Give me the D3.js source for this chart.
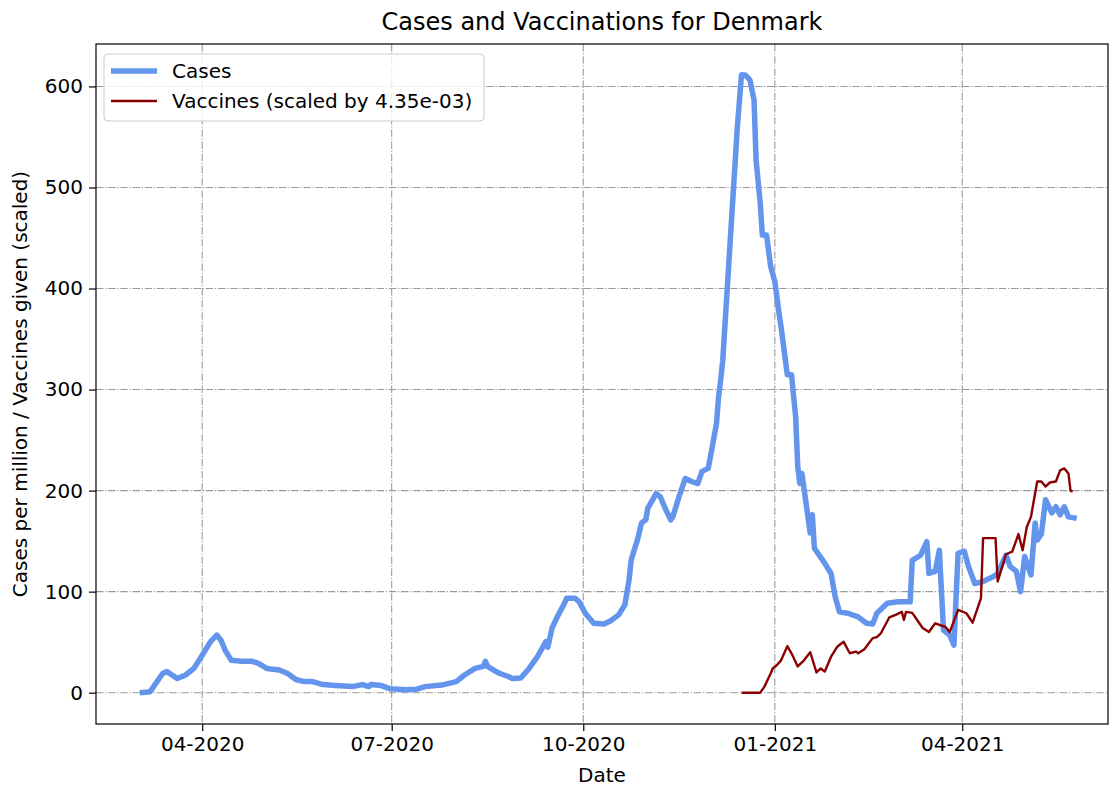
<html>
<head>
<meta charset="utf-8">
<script src="https://d3js.org/d3.v7.min.js"></script>
<style>
body { margin: 0; background: #fff; }
text { font-family: "DejaVu Sans", sans-serif; fill: #000; }
</style>
</head>
<body>
<svg width="1112" height="787"></svg>
<script>
// cases per million
var caseDates = ["2020-03-02","2020-03-07","2020-03-13","2020-03-15","2020-03-20","2020-03-24","2020-03-28",
  "2020-04-01","2020-04-05","2020-04-08","2020-04-10","2020-04-12","2020-04-15","2020-04-20","2020-04-25","2020-04-28",
  "2020-05-02","2020-05-08","2020-05-12","2020-05-16","2020-05-20","2020-05-24","2020-05-29",
  "2020-06-04","2020-06-12","2020-06-17","2020-06-20","2020-06-21","2020-06-26","2020-06-30",
  "2020-07-08","2020-07-13","2020-07-17","2020-07-25",
  "2020-08-01","2020-08-05","2020-08-10","2020-08-14","2020-08-15","2020-08-16","2020-08-20","2020-08-22","2020-08-26","2020-08-28",
  "2020-09-01","2020-09-05","2020-09-09","2020-09-13","2020-09-14","2020-09-16","2020-09-19","2020-09-22","2020-09-23","2020-09-27","2020-09-29",
  "2020-10-02","2020-10-06","2020-10-11","2020-10-14","2020-10-18","2020-10-21","2020-10-23","2020-10-24","2020-10-25","2020-10-27","2020-10-29","2020-10-31",
  "2020-11-01","2020-11-05","2020-11-07","2020-11-09","2020-11-12","2020-11-13","2020-11-16","2020-11-19","2020-11-22","2020-11-25","2020-11-27","2020-11-30",
  "2020-12-02","2020-12-04","2020-12-05","2020-12-06","2020-12-07","2020-12-09","2020-12-12","2020-12-14","2020-12-16","2020-12-18","2020-12-20",
  "2020-12-22","2020-12-23","2020-12-25","2020-12-26","2020-12-28","2020-12-30",
  "2021-01-01","2021-01-03","2021-01-04","2021-01-07","2021-01-09","2021-01-11","2021-01-12","2021-01-13","2021-01-14","2021-01-16",
  "2021-01-18","2021-01-19","2021-01-20","2021-01-25","2021-01-28","2021-01-30",
  "2021-02-01","2021-02-05","2021-02-10","2021-02-14","2021-02-17","2021-02-19","2021-02-24",
  "2021-03-01","2021-03-07","2021-03-08","2021-03-12","2021-03-15","2021-03-16","2021-03-19","2021-03-21","2021-03-23","2021-03-26","2021-03-28","2021-03-30",
  "2021-04-02","2021-04-04","2021-04-07","2021-04-11","2021-04-16","2021-04-18","2021-04-22","2021-04-24","2021-04-27","2021-04-29",
  "2021-05-01","2021-05-04","2021-05-06","2021-05-07","2021-05-09","2021-05-11","2021-05-14","2021-05-16","2021-05-18","2021-05-20","2021-05-22","2021-05-26"];
var caseValues = [0,1,19,21,14,17.5,24,
  37,50.5,57,52,42,32,31,31,29,
  24,22.5,19,13,11,11,8,
  7,6,8,6,8,7,4,
  3,3.5,6,7.5,
  11,17.5,24,26,31,26,21,19,16,14,
  14.5,24,35.6,50.5,45,64,77,88.5,93.5,93.5,90,
  78.6,68.7,68,71,77,87,111.6,131,138,151,168,171,
  182.6,197,194,184,171,174,194,212,209,207,219,222,
  243.6,266.7,293,309.6,329,395,494,560,611.6,611,606.6,
  587,527,484.6,453,453,421.8,
  407,375.6,362,314.6,314.6,273,224,207,217,187.5,
  158,176,143,128,118,95,
  80,78.6,75,68.7,68,78.6,88.5,
  90,90,131,136,149.5,118,120,141,62,57,47,138,
  140,125,108,110,115,118,136,125,120,100,
  134.7,116.5,168,151,157,191,178,184,176,184,174,172.5];

// vaccines given, already scaled by 4.35e-03
var vaxDates = ["2020-12-16","2020-12-25","2020-12-27","2020-12-30","2020-12-31",
  "2021-01-02","2021-01-04","2021-01-07","2021-01-09","2021-01-12","2021-01-15","2021-01-18","2021-01-21","2021-01-23","2021-01-25","2021-01-28","2021-01-31",
  "2021-02-03","2021-02-06","2021-02-09","2021-02-10","2021-02-13","2021-02-17","2021-02-19","2021-02-21","2021-02-25","2021-02-28",
  "2021-03-03","2021-03-04","2021-03-05","2021-03-08","2021-03-11","2021-03-13","2021-03-16","2021-03-19","2021-03-24","2021-03-26","2021-03-30",
  "2021-04-03","2021-04-06","2021-04-10","2021-04-11","2021-04-17","2021-04-18","2021-04-22","2021-04-25","2021-04-28","2021-04-30",
  "2021-05-02","2021-05-04","2021-05-07","2021-05-09","2021-05-11","2021-05-13","2021-05-16","2021-05-18","2021-05-20","2021-05-22","2021-05-23","2021-05-24"];
var vaxValues = [0,0,6,19,24,
  27.4,32,46,39,26,32,40,20,24,21,35.6,45.5,
  50.5,39,40.6,39,43,54,55,59,74.6,77,
  80,72,80,79,70,64,60,68.7,65,60,82,
  78.6,69.3,93.5,153,153,110,137,139.6,157,141,
  164,174,209,209,204,208,209,220,222,217,200,199];

var xTickDates = ["2020-04-01","2020-07-01","2020-10-01","2021-01-01","2021-04-01"];
var yTicks = [0,100,200,300,400,500,600];

var parse = d3.utcParse("%Y-%m-%d");
var margin = {top: 44, right: 4, bottom: 63, left: 96};
var width = 1112 - margin.left - margin.right;
var height = 787 - margin.top - margin.bottom;

var svg = d3.select("svg");
var g = svg.append("g").attr("transform", "translate(" + margin.left + "," + margin.top + ")");

var x = d3.scaleUtc().domain([parse("2020-02-10"), parse("2021-06-10")]).range([0, width]);
var y = d3.scaleLinear().domain([-31, 642]).range([height, 0]);

// grid, dash-dot like matplotlib '-.'
var dash = "7.4,1.8,1.2,1.8";
g.append("g").selectAll("line").data(xTickDates).enter().append("line")
  .attr("x1", function(d) { return x(parse(d)); })
  .attr("x2", function(d) { return x(parse(d)); })
  .attr("y1", 0).attr("y2", height)
  .attr("stroke", "#9a9a9a").attr("stroke-width", 1.1).attr("stroke-dasharray", dash);
g.append("g").selectAll("line").data(yTicks).enter().append("line")
  .attr("y1", function(d) { return y(d); })
  .attr("y2", function(d) { return y(d); })
  .attr("x1", 0).attr("x2", width)
  .attr("stroke", "#9a9a9a").attr("stroke-width", 1.1).attr("stroke-dasharray", dash);

// lines
var line = d3.line()
  .x(function(d) { return x(d[0]); })
  .y(function(d) { return y(d[1]); });

var cases = caseDates.map(function(d, i) { return [parse(d), caseValues[i]]; });
var vax = vaxDates.map(function(d, i) { return [parse(d), vaxValues[i]]; });

g.append("path").datum(cases).attr("d", line)
  .attr("fill", "none").attr("stroke", "#6495ed").attr("stroke-width", 5.5)
  .attr("stroke-linejoin", "round").attr("stroke-linecap", "butt");
g.append("path").datum(vax).attr("d", line)
  .attr("fill", "none").attr("stroke", "#8b0000").attr("stroke-width", 2.4)
  .attr("stroke-linejoin", "round");

// axes
var xAxis = g.append("g").attr("transform", "translate(0," + height + ")")
  .call(d3.axisBottom(x).tickValues(xTickDates.map(parse)).tickFormat(d3.utcFormat("%m-%Y")).tickSize(7).tickPadding(6));
var yAxis = g.append("g")
  .call(d3.axisLeft(y).tickValues(yTicks).tickSize(7).tickPadding(6));
[xAxis, yAxis].forEach(function(a) {
  a.select(".domain").remove();
  a.selectAll("text").style("font-size", "20px").style("font-family", "DejaVu Sans");
  a.selectAll("line").attr("stroke", "#000").attr("stroke-width", 1.2);
});

// frame
g.append("rect").attr("width", width).attr("height", height)
  .attr("fill", "none").attr("stroke", "#000").attr("stroke-width", 1.2);

// labels
svg.append("text").attr("x", margin.left + width / 2).attr("y", 30)
  .attr("text-anchor", "middle").style("font-size", "24px").text("Cases and Vaccinations for Denmark");
svg.append("text").attr("x", margin.left + width / 2).attr("y", 782)
  .attr("text-anchor", "middle").style("font-size", "20px").text("Date");
svg.append("text").attr("transform", "translate(27," + (margin.top + height / 2) + ") rotate(-90)")
  .attr("text-anchor", "middle").style("font-size", "20px").text("Cases per million / Vaccines given (scaled)");

// legend
var lg = svg.append("g").attr("transform", "translate(104,54)");
lg.append("rect").attr("width", 380).attr("height", 67).attr("rx", 4)
  .attr("fill", "#fff").attr("fill-opacity", 0.8).attr("stroke", "#cccccc");
lg.append("line").attr("x1", 7).attr("x2", 53).attr("y1", 17).attr("y2", 17)
  .attr("stroke", "#6495ed").attr("stroke-width", 5.5);
lg.append("line").attr("x1", 7).attr("x2", 53).attr("y1", 47).attr("y2", 47)
  .attr("stroke", "#8b0000").attr("stroke-width", 2.4);
lg.append("text").attr("x", 68).attr("y", 24).style("font-size", "20px").text("Cases");
lg.append("text").attr("x", 68).attr("y", 54).style("font-size", "20px").text("Vaccines (scaled by 4.35e-03)");
</script>
</body>
</html>
